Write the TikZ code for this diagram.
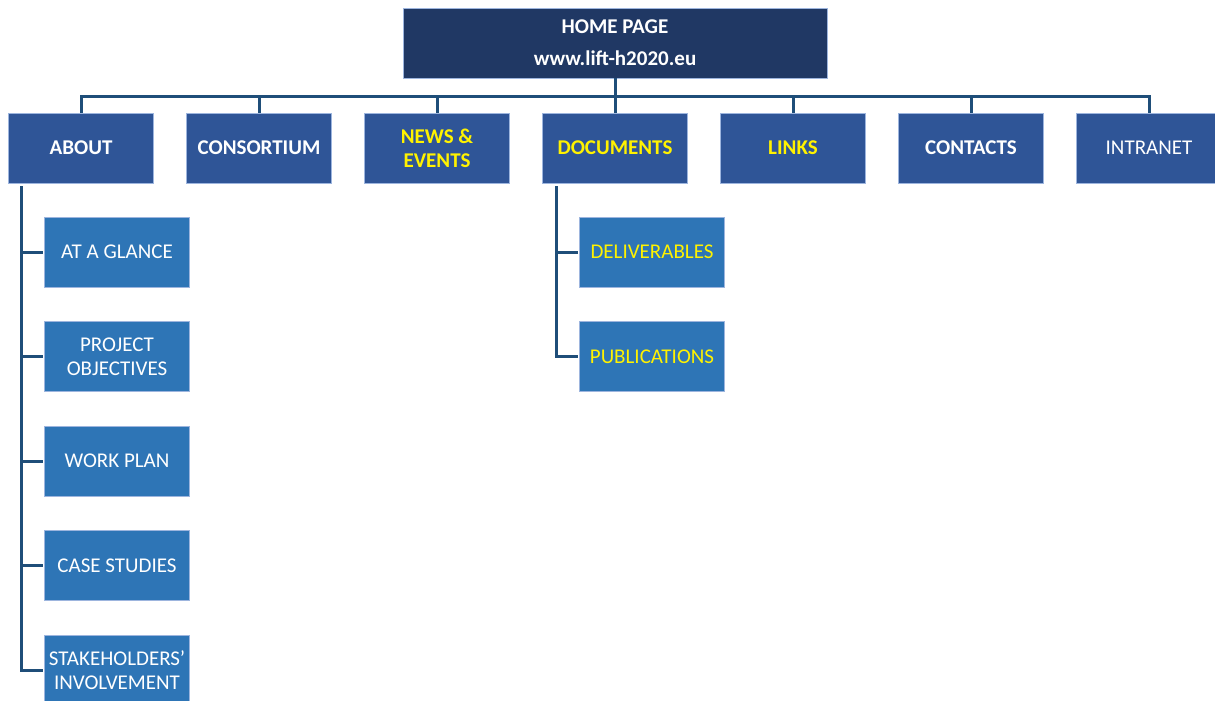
\documentclass[tikz,border=0pt]{standalone}
\usepackage{fontspec}
\setmainfont{Carlito}
\usetikzlibrary{positioning}

\definecolor{homeblue}{HTML}{203864}
\definecolor{topblue}{HTML}{2F5597}
\definecolor{subblue}{HTML}{2E75B6}
\definecolor{linkblue}{HTML}{1F4E79}
\definecolor{edgeblue}{HTML}{9DB5DE}

\tikzset{
    box/.style={draw=edgeblue, line width=0.6pt, align=center, inner sep=0pt, outer sep=0pt,
        minimum height=70pt, font=\fontsize{21}{24}\selectfont},
    homebox/.style={box, fill=homeblue, text=white, minimum width=424pt, font=\fontsize{21}{24}\selectfont\bfseries},
    topbox/.style={box, fill=topblue, text=white, minimum width=145pt},
    subbox/.style={box, fill=subblue, text=white, minimum width=145pt},
    hot/.style={text=yellow},
    link/.style={draw=linkblue, line width=3pt},
}

\begin{document}
\begin{tikzpicture}[node distance=33pt]
    \useasboundingbox (0,0) rectangle (1215pt,-701pt);

    % Home
    \node[homebox] (home) at (615pt,-43pt) {HOME PAGE\\[8pt]www.lift-h2020.eu};

    % Main menu
    \node[topbox, font=\fontsize{21}{24}\selectfont\bfseries] (about) at (81pt,-148pt) {ABOUT};
    \node[topbox, font=\fontsize{21}{24}\selectfont\bfseries] (consortium) [right=of about] {CONSORTIUM};
    \node[topbox, hot, font=\fontsize{21}{24}\selectfont\bfseries] (news) [right=of consortium] {NEWS \&\\EVENTS};
    \node[topbox, hot, font=\fontsize{21}{24}\selectfont\bfseries] (documents) [right=of news] {DOCUMENTS};
    \node[topbox, hot, font=\fontsize{21}{24}\selectfont\bfseries] (links) [right=of documents] {LINKS};
    \node[topbox, font=\fontsize{21}{24}\selectfont\bfseries] (contacts) [right=of links] {CONTACTS};
    \node[topbox] (intranet) [right=of contacts] {INTRANET};

    % About pages
    \node[subbox] (glance) [below=34pt of about.south west, anchor=north west, xshift=36pt] {AT A GLANCE};
    \node[subbox] (objectives) [below=34.5pt of glance] {PROJECT\\OBJECTIVES};
    \node[subbox] (workplan) [below=34.5pt of objectives] {WORK PLAN};
    \node[subbox] (cases) [below=34.5pt of workplan] {CASE STUDIES};
    \node[subbox] (stakeholders) [below=34.5pt of cases] {STAKEHOLDERS’\\INVOLVEMENT};

    % Document pages
    \node[subbox, hot] (deliverables) [below=34pt of documents.south west, anchor=north west, xshift=37pt] {DELIVERABLES};
    \node[subbox, hot] (publications) [below=34.5pt of deliverables] {PUBLICATIONS};

    % Connections
    \foreach \n in {about,consortium,news,documents,links,contacts,intranet}
        \draw[link] (home.south) |- ([yshift=17pt]\n.north) -- (\n.north);

    \foreach \n in {glance,objectives,workplan,cases,stakeholders}
        \draw[link] ([xshift=13pt,yshift=-3pt]about.south west) |- ([xshift=-2pt]\n.west);

    \foreach \n in {deliverables,publications}
        \draw[link] ([xshift=14pt,yshift=-3pt]documents.south west) |- ([xshift=-2pt]\n.west);

\end{tikzpicture}
\end{document}
